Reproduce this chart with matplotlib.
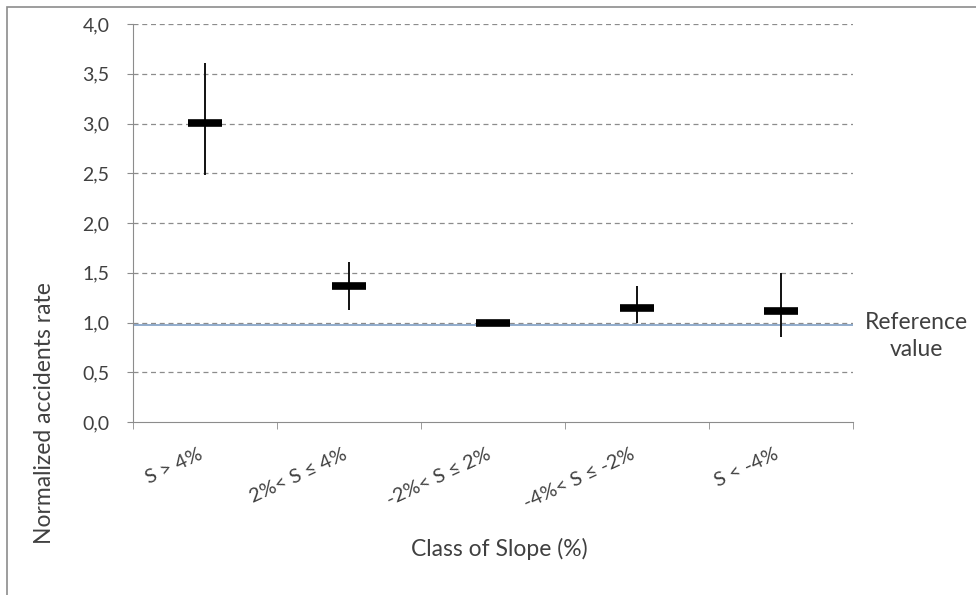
import numpy as np
import matplotlib
matplotlib.use('Agg')
import matplotlib.pyplot as plt
import matplotlib.transforms as mtransforms
from matplotlib.patches import Rectangle

# slope classes and normalized accident rates (mean with low / high bounds)
categories = ['S > 4%', '2%< S \u2264 4%', '-2%< S \u2264 2%', '-4%< S \u2264 -2%', 'S < -4%']
rate_mean = [3.01, 1.37, 1.0, 1.15, 1.12]
rate_low = [2.48, 1.13, 1.0, 0.99, 0.85]
rate_high = [3.61, 1.61, 1.0, 1.37, 1.50]
reference_value = 0.975
yticks = [0.0, 0.5, 1.0, 1.5, 2.0, 2.5, 3.0, 3.5, 4.0]

plt.rcParams['font.family'] = ['Lato', 'DejaVu Sans']
txt = '#404040'
axis_col = '#8c8c8c'

fig = plt.figure(figsize=(9.76, 5.95), dpi=100)
ax = fig.add_axes([133 / 976, 1 - 422 / 595, (853 - 133) / 976, (422 - 24) / 595])

x = np.arange(len(categories))
mean = np.array(rate_mean)
yerr = np.vstack([mean - np.array(rate_low), np.array(rate_high) - mean])

# grid and reference line
for v in yticks[1:]:
    ax.axhline(v, color=axis_col, lw=0.9, ls=(0, (4, 3)), zorder=1)
ax.axhline(reference_value, color='#7f9ec4', lw=1.2, zorder=2)

ax.errorbar(x, mean, yerr=yerr, fmt='none', ecolor='#111111', elinewidth=1.4, capsize=0, zorder=3)
ax.plot(x, mean, ls='none', marker='_', markersize=25, markeredgewidth=5.5, color='black', zorder=4)

ax.set_xlim(-0.5, len(categories) - 0.5)
ax.set_ylim(0, 4)
ax.set_yticks(yticks)
ax.set_yticklabels([('%.1f' % v).replace('.', ',') for v in yticks], fontsize=14, color=txt)
ax.tick_params(axis='y', length=4, color=axis_col, pad=13)

ax.set_xticks(x)
ax.set_xticklabels(categories, rotation=25, ha='right', rotation_mode='anchor', fontsize=14.5, color=txt)
ax.set_xticks(np.arange(len(categories) + 1) - 0.5, minor=True)
ax.tick_params(axis='x', which='major', length=0, pad=17)
ax.tick_params(axis='x', which='minor', length=5, color=axis_col)
# nudge rotated labels a bit to the left, as in the original
shift = mtransforms.ScaledTranslation(-7 / 100, 0, fig.dpi_scale_trans)
for lab in ax.get_xticklabels():
    lab.set_transform(lab.get_transform() + shift)

for s in ['top', 'right']:
    ax.spines[s].set_visible(False)
for s in ['left', 'bottom']:
    ax.spines[s].set_color(axis_col)

fig.text(45 / 976, 1 - 413 / 595, 'Normalized accidents rate', rotation=90, ha='center', va='center',
         fontsize=16.5, color=txt)
fig.text(499 / 976, 1 - 549 / 595, 'Class of Slope (%)', ha='center', va='center', fontsize=16.5, color=txt)
fig.text(916 / 976, 1 - 336 / 595, 'Reference\nvalue', ha='center', va='center', fontsize=16.5, color=txt,
         linespacing=1.35)

# chart area border
fig.patches.append(Rectangle((7 / 976, -0.1), 1.2, 1 - 7 / 595 + 0.1, transform=fig.transFigure,
                             fill=False, edgecolor=axis_col, lw=1.2))

plt.savefig('out.png', dpi=100)
